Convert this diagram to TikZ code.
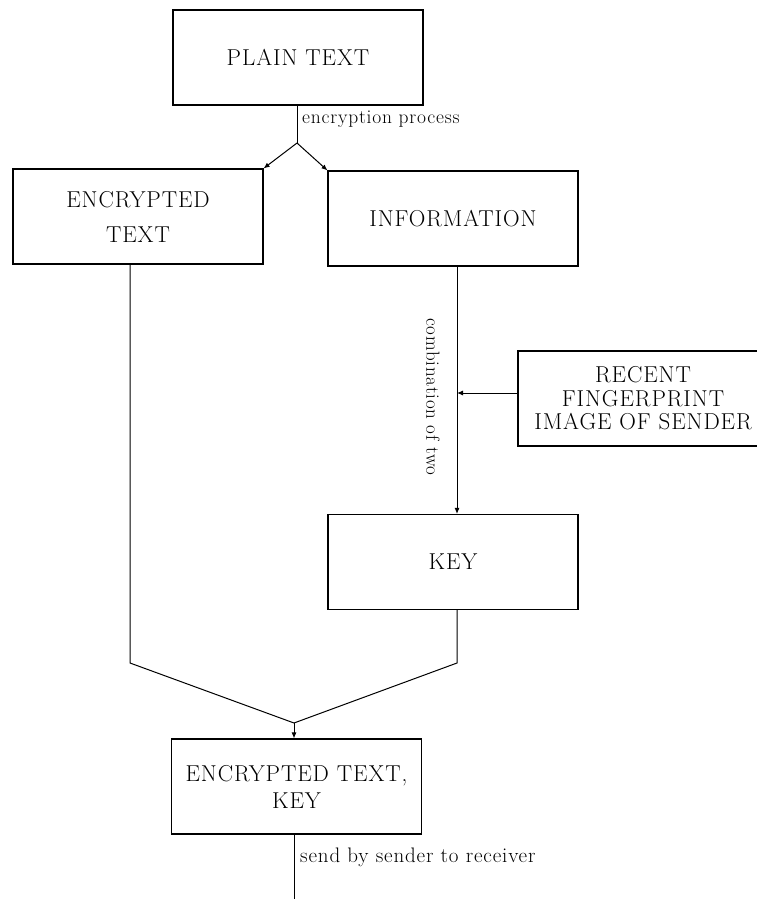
\documentclass[tikz,border=0pt]{standalone}
\usepackage{fontspec}
\setmainfont[LetterSpace=4]{Latin Modern Roman}
\usetikzlibrary{arrows.meta}
\begin{document}
\begin{tikzpicture}[x=1pt,y=-1pt,>={Latex[length=6pt,width=5pt]},
    caixa/.style={draw,line width=1.1pt,minimum width=250pt,minimum height=95pt,
        align=center,inner sep=0pt,font=\fontsize{23}{27}\selectfont},
    rotulo/.style={inner sep=0pt,font=\fontsize{19.5}{22}\selectfont},
    linha/.style={line width=1pt}]
    \useasboundingbox (0,0) rectangle (757,899);
    \node[caixa] (plain) at (298,57.5) {PLAIN TEXT};
    \node[caixa,font=\fontsize{23}{35}\selectfont] (enc) at (138,216.5) {ENCRYPTED\\TEXT};
    \node[caixa] (info) at (453,218.5) {INFORMATION};
    \node[caixa,font=\fontsize{23}{23.5}\selectfont] (finger) at (643,398.5) {RECENT\\FINGERPRINT\\IMAGE OF SENDER};
    \node[caixa] (key) at (453,562) {KEY};
    \node[caixa] (both) at (296.5,786.5) {ENCRYPTED TEXT,\\KEY};
    \coordinate (split) at (297,143);
    \coordinate (join) at (457,393);
    \coordinate (dobra) at (130,663);
    \coordinate (merge) at (294,723);
    \coordinate (fim) at (294,899);
    \draw[linha] (plain.south -| split) -- (split);
    \draw[linha,->] (split) -- (enc.north east);
    \draw[linha,->] (split) -- (info.north west);
    \node[rotulo,anchor=west] (cript) at (302,119) {encryption process};
    \draw[linha,->] (info.south -| join) -- (key.north -| join);
    \draw[linha,->] (finger.west |- join) -- (join);
    \node[rotulo,rotate=-90,font=\fontsize{19}{22}\selectfont] (comb) at (433,397) {combination of two};
    \draw[linha] (enc.south -| dobra) -- (dobra) -- (merge);
    \draw[linha] (key.south -| join) -- (join |- dobra) -- (merge);
    \draw[linha,->] (merge) -- (both.north -| merge);
    \draw[linha] (both.south -| fim) -- (fim);
    \node[rotulo,anchor=west,font=\fontsize{21}{22}\selectfont] (envio) at (300,857) {send by sender to receiver};
\end{tikzpicture}
\end{document}
